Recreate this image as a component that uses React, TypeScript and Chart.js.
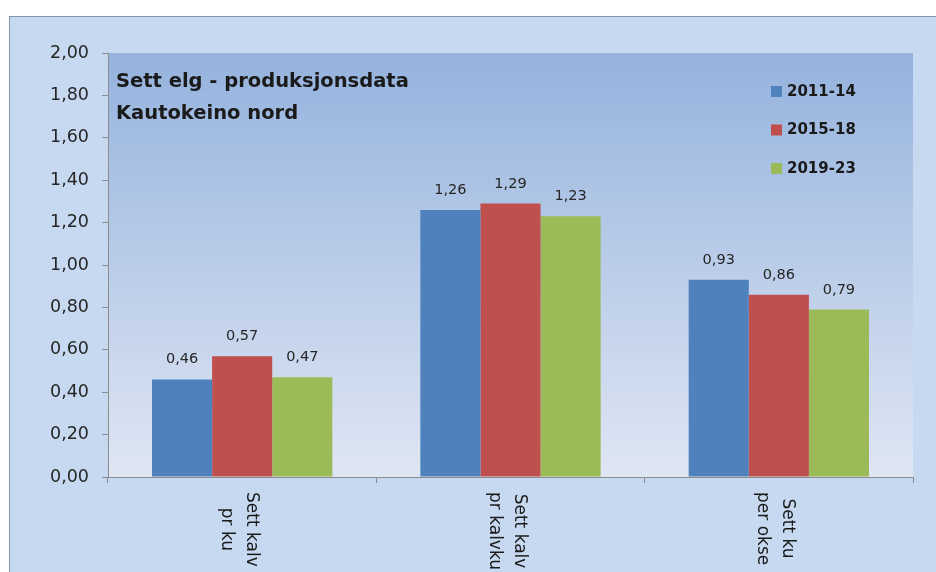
import React, { useEffect, useRef } from "react";
import { Chart, registerables } from "chart.js";

Chart.register(...registerables);

const categories: string[][] = [
  ["Sett kalv", "pr ku"],
  ["Sett kalv", "pr kalvku"],
  ["Sett ku", "per okse"],
];
const seriesNames = ["2011-14", "2015-18", "2019-23"];
const series2011_14 = [0.46, 1.26, 0.93];
const series2015_18 = [0.57, 1.29, 0.86];
const series2019_23 = [0.47, 1.23, 0.79];
const seriesColors = ["#4f81bd", "#c0504d", "#9bbb59"];
const titleLines = ["Sett elg - produksjonsdata", "Kautokeino nord"];
const yMin = 0;
const yMax = 2;
const yStep = 0.2;

const FONT = "'DejaVu Sans', sans-serif";
const fmt = (v: number) => v.toFixed(2).replace(".", ",");

const backgroundPlugin = {
  id: "plotBg",
  beforeDraw(chart: any) {
    const { ctx, chartArea } = chart;
    const g = ctx.createLinearGradient(0, chartArea.top, 0, chartArea.bottom);
    g.addColorStop(0, "#95b3de");
    g.addColorStop(1, "#dfe6f3");
    ctx.save();
    ctx.fillStyle = g;
    ctx.fillRect(chartArea.left, chartArea.top, chartArea.right - chartArea.left, chartArea.bottom - chartArea.top);
    ctx.restore();
  },
};

const valueLabelPlugin = {
  id: "valueLabels",
  afterDatasetsDraw(chart: any) {
    const { ctx } = chart;
    ctx.save();
    ctx.font = `14.5px ${FONT}`;
    ctx.fillStyle = "#262626";
    ctx.textAlign = "center";
    ctx.textBaseline = "alphabetic";
    chart.data.datasets.forEach((ds: any, di: number) => {
      const meta = chart.getDatasetMeta(di);
      meta.data.forEach((bar: any, i: number) => {
        ctx.fillText(fmt(ds.data[i]), bar.x, bar.y - 16);
      });
    });
    ctx.restore();
  },
};

const decorPlugin = {
  id: "decor",
  afterDraw(chart: any) {
    const { ctx, chartArea } = chart;
    ctx.save();
    // title
    ctx.font = `bold 19.5px ${FONT}`;
    ctx.fillStyle = "#1a1a1a";
    ctx.textAlign = "left";
    ctx.textBaseline = "alphabetic";
    ctx.fillText(titleLines[0], chartArea.left + 8, chartArea.top + 34);
    ctx.fillText(titleLines[1], chartArea.left + 8, chartArea.top + 66);

    // legend
    ctx.font = `bold 15px ${FONT}`;
    ctx.textBaseline = "middle";
    chart.data.datasets.forEach((ds: any, i: number) => {
      const cy = chartArea.top + 38.5 + i * 38.5;
      ctx.fillStyle = ds.backgroundColor;
      ctx.fillRect(chartArea.left + 663, cy - 5.5, 11, 11);
      ctx.fillStyle = "#1a1a1a";
      ctx.fillText(ds.label, chartArea.left + 679, cy + 0.5);
    });

    // rotated category labels (reading top to bottom)
    const xs = chart.scales.x;
    ctx.font = `17px ${FONT}`;
    ctx.fillStyle = "#1a1a1a";
    ctx.textAlign = "center";
    ctx.textBaseline = "alphabetic";
    categories.forEach((lines, i) => {
      const cx = xs.getPixelForValue(i);
      const maxW = Math.max(...lines.map((l) => ctx.measureText(l).width));
      const startY = chartArea.bottom + 15;
      ctx.save();
      ctx.translate(cx, startY + maxW / 2);
      ctx.rotate(Math.PI / 2);
      ctx.fillText(lines[0], 0, -4.5);
      ctx.fillText(lines[1], 0, 20.5);
      ctx.restore();
    });
    ctx.restore();
  },
};

export default function App() {
  const ref = useRef<HTMLCanvasElement | null>(null);
  useEffect(() => {
    if (!ref.current) return;
    Chart.defaults.font.family = FONT;
    const chart = new Chart(ref.current, {
      type: "bar",
      data: {
        labels: categories,
        datasets: [
          { label: seriesNames[0], data: series2011_14, backgroundColor: seriesColors[0] },
          { label: seriesNames[1], data: series2015_18, backgroundColor: seriesColors[1] },
          { label: seriesNames[2], data: series2019_23, backgroundColor: seriesColors[2] },
        ],
      },
      options: {
        responsive: false,
        animation: false,
        devicePixelRatio: 1,
        layout: { padding: { top: 36, right: 23, left: 0, bottom: 0 } },
        datasets: { bar: { barPercentage: 1, categoryPercentage: 0.672 } },
        plugins: { legend: { display: false }, tooltip: { enabled: false }, title: { display: false } },
        scales: {
          x: {
            offset: true,
            ticks: { display: false },
            grid: { offset: true, drawOnChartArea: false, drawTicks: true, tickLength: 6, color: "#8c8c8c" },
            border: { display: true, color: "#8c8c8c" },
            afterFit: (s: any) => {
              s.height = 95;
            },
          },
          y: {
            min: yMin,
            max: yMax,
            ticks: {
              stepSize: yStep,
              padding: 13,
              color: "#262626",
              font: { family: FONT, size: 17.5 },
              callback: (v: any) => fmt(Number(v)),
            },
            grid: { drawOnChartArea: false, drawTicks: true, tickLength: 6, color: "#8c8c8c" },
            border: { display: true, color: "#8c8c8c" },
            afterFit: (s: any) => {
              s.width = 98;
            },
          },
        },
      },
      plugins: [backgroundPlugin, valueLabelPlugin, decorPlugin],
    } as any);
    return () => chart.destroy();
  }, []);

  return (
    <div
      style={{
        position: "absolute",
        left: 9,
        top: 16,
        width: 926,
        height: 555,
        background: "#c6d9f0",
        borderTop: "1px solid #8497b0",
        borderLeft: "1px solid #8497b0",
        overflow: "hidden",
      }}
    >
      <canvas ref={ref} width={926} height={555} style={{ display: "block" }} />
    </div>
  );
}
